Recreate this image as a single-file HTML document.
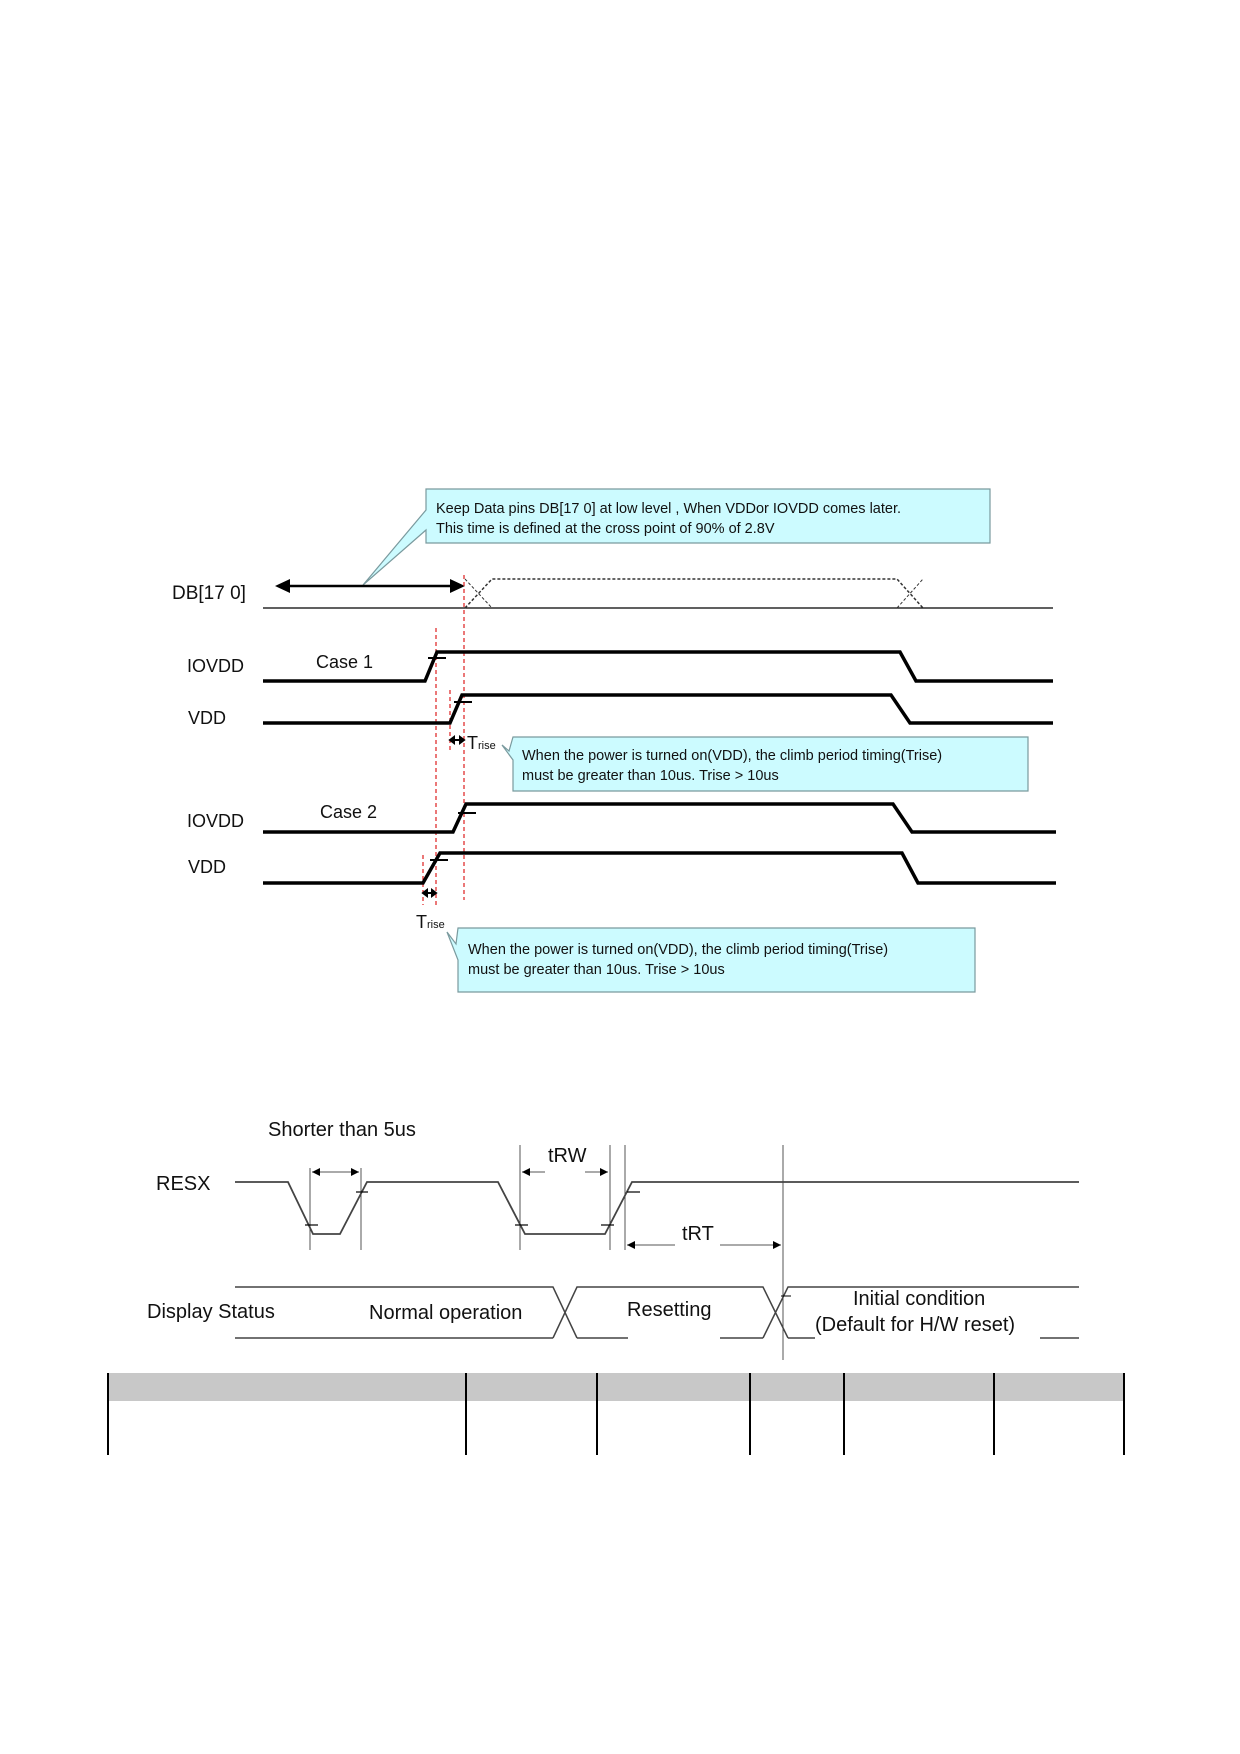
<!DOCTYPE html>
<html><head><meta charset="utf-8"><style>
html,body{margin:0;padding:0;background:#fff}
svg{display:block}
text{font-family:"Liberation Sans",Arial,sans-serif;fill:#111}
</style></head><body>
<svg width="1240" height="1754" viewBox="0 0 1240 1754" xmlns="http://www.w3.org/2000/svg">

<!-- Callout 1 -->
<path d="M426,489 L990,489 L990,543 L426,543 L426,530 L363,585 L426,510 Z" fill="#ccfbff" stroke="#7a9a9e" stroke-width="1.2"/>
<text x="436" y="513" font-size="14.5">Keep Data pins DB[17 0] at low level ,  When VDDor IOVDD comes later.</text>
<text x="436" y="533" font-size="14.5">This time is defined at the cross point of 90% of 2.8V</text>

<!-- DB -->
<text x="172" y="599" font-size="19">DB[17 0]</text>
<line x1="285" y1="586" x2="455" y2="586" stroke="#000" stroke-width="2.5"/>
<path d="M275,586 l15,-7 v14z M465,586 l-15,-7 v14z" fill="#000"/>
<line x1="263" y1="608" x2="1053" y2="608" stroke="#000" stroke-width="1.3"/>
<path d="M465,608 L492,579 L897,579 L923,608" fill="none" stroke="#333" stroke-width="1.5" stroke-dasharray="3,2"/>
<path d="M465,579 L492,608 M897,608 L923,579" fill="none" stroke="#333" stroke-width="1" stroke-dasharray="3,2"/>

<!-- red dashed -->
<g stroke="#e03030" stroke-width="1.3" stroke-dasharray="4,3" fill="none">
<line x1="436" y1="628" x2="436" y2="905"/>
<line x1="464" y1="575" x2="464" y2="900"/>
<line x1="450" y1="690" x2="450" y2="750"/>
<line x1="423" y1="855" x2="423" y2="905"/>
</g>

<!-- Case 1 -->
<text x="187" y="672" font-size="18">IOVDD</text>
<text x="316" y="668" font-size="18">Case 1</text>
<path d="M263,681 L425,681 L437,652 L900,652 L916,681 L1053,681" fill="none" stroke="#000" stroke-width="3.5"/>
<line x1="428" y1="658" x2="446" y2="658" stroke="#000" stroke-width="2"/>
<text x="188" y="724" font-size="18">VDD</text>
<path d="M263,723 L450,723 L462,695 L891,695 L910,723 L1053,723" fill="none" stroke="#000" stroke-width="3.5"/>
<line x1="454" y1="702" x2="472" y2="702" stroke="#000" stroke-width="2"/>
<path d="M450,740 L464,740 M450,740 l4,-3 v6z M464,740 l-4,-3 v6z" stroke="#000" stroke-width="2" fill="#000"/>
<text x="467" y="749" font-size="18" font-family="Liberation Serif">T<tspan font-size="11">rise</tspan></text>

<!-- Callout 2 -->
<path d="M513,737 L1028,737 L1028,791 L513,791 L513,760 L502,745 L509,751 Z" fill="#ccfbff" stroke="#7a9a9e" stroke-width="1.2"/>
<text x="522" y="760" font-size="14.5">When the power is turned on(VDD), the climb period timing(Trise)</text>
<text x="522" y="780" font-size="14.5">must be greater than 10us. Trise &gt; 10us</text>

<!-- Case 2 -->
<text x="187" y="827" font-size="18">IOVDD</text>
<text x="320" y="818" font-size="18">Case 2</text>
<path d="M263,832 L453,832 L466,804 L893,804 L912,832 L1056,832" fill="none" stroke="#000" stroke-width="3.5"/>
<line x1="458" y1="813" x2="476" y2="813" stroke="#000" stroke-width="2"/>
<text x="188" y="873" font-size="18">VDD</text>
<path d="M263,883 L423,883 L440,853 L902,853 L918,883 L1056,883" fill="none" stroke="#000" stroke-width="3.5"/>
<line x1="430" y1="860" x2="448" y2="860" stroke="#000" stroke-width="2"/>
<path d="M423,893 L436,893 M423,893 l4,-3 v6z M436,893 l-4,-3 v6z" stroke="#000" stroke-width="2" fill="#000"/>
<text x="416" y="928" font-size="18" font-family="Liberation Serif">T<tspan font-size="11">rise</tspan></text>

<!-- Callout 3 -->
<path d="M458,928 L975,928 L975,992 L458,992 L458,960 L447,932 L456,944 Z" fill="#ccfbff" stroke="#7a9a9e" stroke-width="1.2"/>
<text x="468" y="954" font-size="14.5">When the power is turned on(VDD), the climb period timing(Trise)</text>
<text x="468" y="974" font-size="14.5">must be greater than 10us. Trise &gt; 10us</text>

<!-- RESX -->
<text x="268" y="1136" font-size="20">Shorter than 5us</text>
<text x="156" y="1190" font-size="20">RESX</text>
<g stroke="#555" stroke-width="1" fill="none">
<line x1="310" y1="1168" x2="310" y2="1250"/>
<line x1="361" y1="1168" x2="361" y2="1250"/>
<line x1="520" y1="1145" x2="520" y2="1250"/>
<line x1="610" y1="1145" x2="610" y2="1250"/>
<line x1="625" y1="1145" x2="625" y2="1250"/>
<line x1="783" y1="1145" x2="783" y2="1360"/>
</g>
<path d="M235,1182 L288,1182 L313,1234 L340,1234 L367,1182 L498,1182 L525,1234 L605,1234 L632,1182 L1079,1182" fill="none" stroke="#444" stroke-width="1.8"/>
<g stroke="#000" stroke-width="1.2">
<line x1="305" y1="1225" x2="318" y2="1225"/><line x1="356" y1="1192" x2="368" y2="1192"/>
<line x1="515" y1="1225" x2="528" y2="1225"/><line x1="601" y1="1225" x2="614" y2="1225"/>
<line x1="627" y1="1192" x2="640" y2="1192"/>
</g>
<g stroke="#555" stroke-width="1">
<line x1="312" y1="1172" x2="359" y2="1172"/>
<line x1="522" y1="1172" x2="545" y2="1172"/><line x1="585" y1="1172" x2="608" y2="1172"/>
<line x1="627" y1="1245" x2="675" y2="1245"/><line x1="720" y1="1245" x2="781" y2="1245"/>
</g>
<path d="M312,1172 l8,-4 v8z M359,1172 l-8,-4 v8z M522,1172 l8,-4 v8z M608,1172 l-8,-4 v8z M627,1245 l8,-4 v8z M781,1245 l-8,-4 v8z" fill="#000"/>
<text x="548" y="1162" font-size="20">tRW</text>
<text x="682" y="1240" font-size="20">tRT</text>

<!-- Display status -->
<g stroke="#444" stroke-width="1.5" fill="none">
<path d="M235,1287 L553,1287 L577,1338 M553,1338 L577,1287 L763,1287 L788,1338 M763,1338 L788,1287 L1079,1287"/>
<path d="M235,1338 L553,1338 M577,1338 L628,1338 M720,1338 L763,1338 M788,1338 L815,1338 M1040,1338 L1079,1338"/>
</g>
<line x1="781" y1="1296" x2="791" y2="1296" stroke="#000" stroke-width="1"/>
<text x="147" y="1318" font-size="20">Display Status</text>
<text x="369" y="1319" font-size="20">Normal operation</text>
<text x="627" y="1316" font-size="20">Resetting</text>
<text x="853" y="1305" font-size="20">Initial condition</text>
<text x="815" y="1331" font-size="20">(Default for H/W reset)</text>

<!-- table -->
<rect x="108" y="1373" width="1016" height="28" fill="#c8c8c8"/>
<g stroke="#000" stroke-width="2">
<line x1="108" y1="1373" x2="108" y2="1455"/>
<line x1="466" y1="1373" x2="466" y2="1455"/>
<line x1="597" y1="1373" x2="597" y2="1455"/>
<line x1="750" y1="1373" x2="750" y2="1455"/>
<line x1="844" y1="1373" x2="844" y2="1455"/>
<line x1="994" y1="1373" x2="994" y2="1455"/>
<line x1="1124" y1="1373" x2="1124" y2="1455"/>
</g>
</svg>
</body></html>
